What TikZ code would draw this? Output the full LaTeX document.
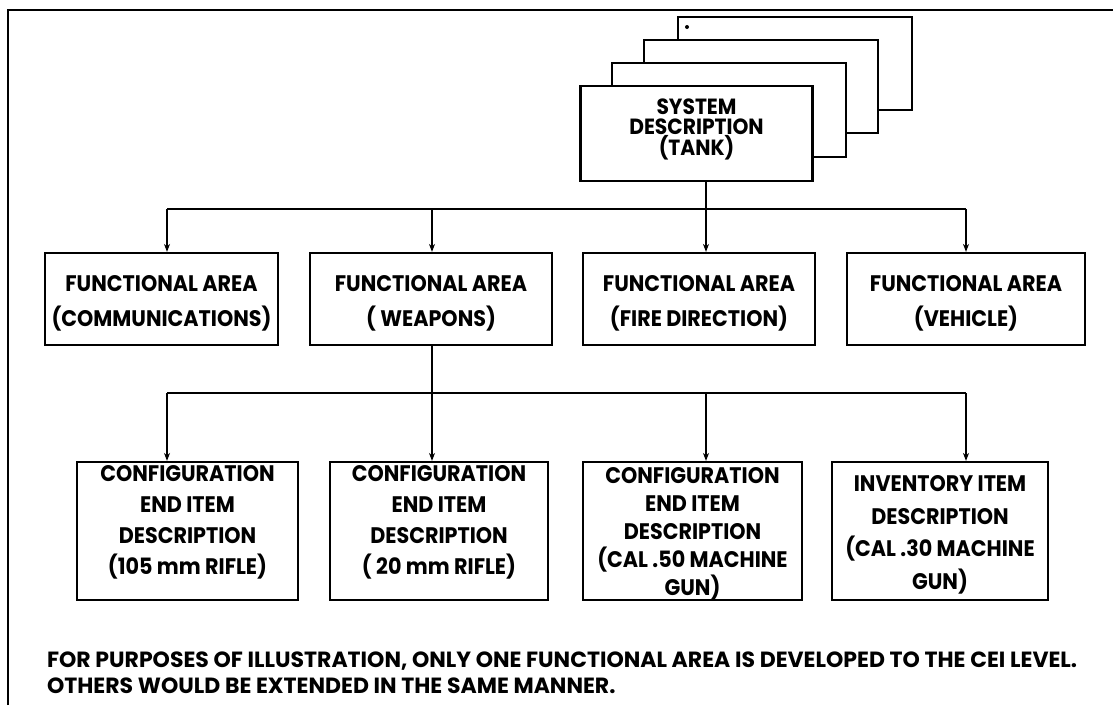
\documentclass[tikz,border=0pt]{standalone}
\usepackage{fontspec}
\setmainfont{Poppins}
% slightly narrowed face for the box labels
\newfontfamily\boxface{Poppins}[FakeStretch=0.92]
\usetikzlibrary{arrows.meta}
% invisible struts that push a box's text block down or up
\newcommand{\padtop}[1]{\rule{0pt}{#1}}
\newcommand{\padbot}[1]{\rule[-#1]{0pt}{1pt}}
% keep baselines evenly spaced even when lines are tall
\newcommand{\tightlines}{\lineskiplimit=-100pt\relax}
\begin{document}
\begin{tikzpicture}[x=1pt,y=-1pt,
  line width=2.2pt,
  box/.style={draw, fill=white, inner sep=0pt, align=center,
    font=\boxface\fontsize{22.5}{31}\selectfont\bfseries\tightlines},
  sheet/.style={draw, fill=white, line width=2.2pt},
  arr/.style={line width=1.6pt, -{Stealth[length=8pt,width=6pt]}},
  link/.style={line width=1.8pt}]
\useasboundingbox (0,0) rectangle (1113,705);

% open frame: top and left rules only
\draw[line width=2.6pt] (8,705) -- (8,10) -- (1113,10);

% stack of system sheets, back to front
\draw[sheet] (678,17) rectangle (912,110);
\fill (687,27) circle (2pt);
\draw[sheet] (644,40) rectangle (878,133);
\draw[sheet] (612,63) rectangle (846,157);
\node[box, minimum width=232pt, minimum height=95pt,
  font=\boxface\fontsize{22}{20.5}\selectfont\bfseries\tightlines] (sys) at (696.5,133.5)
  {SYSTEM\\DESCRIPTION\\(TANK)\padbot{13pt}};

% functional areas
\tikzset{fa/.style={box, minimum height=92pt,
  font=\boxface\fontsize{22.5}{35}\selectfont\bfseries\tightlines}}
\node[fa, minimum width=233pt] (fa1) at (161.5,299)
  {\padtop{24pt}FUNCTIONAL AREA\\(COMMUNICATIONS)};
\node[fa, minimum width=242pt] (fa2) at (431,299)
  {\padtop{24pt}FUNCTIONAL AREA\\( WEAPONS)};
\node[fa, minimum width=232pt] (fa3) at (699,299)
  {\padtop{24pt}FUNCTIONAL AREA\\(FIRE DIRECTION)};
\node[fa, minimum width=238pt] (fa4) at (966,299)
  {\padtop{24pt}FUNCTIONAL AREA\\(VEHICLE)};

% configuration end items
\node[box, minimum width=221pt, minimum height=138pt] (ce1) at (187.5,531)
  {CONFIGURATION\\END ITEM\\DESCRIPTION\\(105 mm RIFLE)\padbot{22pt}};
\node[box, minimum width=218pt, minimum height=138pt] (ce2) at (439,531)
  {CONFIGURATION\\END ITEM\\DESCRIPTION\\( 20 mm RIFLE)\padbot{22pt}};
\node[box, minimum width=219pt, minimum height=138pt,
  font=\boxface\fontsize{22.5}{28}\selectfont\bfseries\tightlines] (ce3) at (692.5,531)
  {\padtop{21pt}CONFIGURATION\\END ITEM\\DESCRIPTION\\(CAL .50 MACHINE\\GUN)};
\node[box, minimum width=216pt, minimum height=138pt,
  font=\boxface\fontsize{22.5}{32.5}\selectfont\bfseries\tightlines] (ce4) at (940,531)
  {\padtop{24pt}INVENTORY ITEM\\DESCRIPTION\\(CAL .30 MACHINE\\GUN)};

% upper bus
\coordinate (u1) at (167,209);
\coordinate (u2) at (432,209);
\coordinate (u3) at (706,209);
\coordinate (u4) at (966,209);
\draw[link] (sys.south -| u3) -- (u3);
\draw[link] (u1) -- (u4);
\draw[arr] (u1) -- (u1 |- fa1.north);
\draw[arr] (u2) -- (u2 |- fa2.north);
\draw[arr] (u3) -- (u3 |- fa3.north);
\draw[arr] (u4) -- (u4 |- fa4.north);

% lower bus
\coordinate (l1) at (167,393);
\coordinate (l2) at (432,393);
\coordinate (l3) at (706,393);
\coordinate (l4) at (966,393);
\draw[link] (fa2.south -| l2) -- (l2);
\draw[link] (l1) -- (l4);
\draw[arr] (l1) -- (l1 |- ce1.north);
\draw[arr] (l2) -- (l2 |- ce2.north);
\draw[arr] (l3) -- (l3 |- ce3.north);
\draw[arr] (l4) -- (l4 |- ce4.north);

% note
\node[anchor=base west, inner sep=0pt, align=left,
  font=\fontsize{22}{26}\selectfont\bfseries] (note) at (46,693)
  {FOR PURPOSES OF ILLUSTRATION, ONLY ONE FUNCTIONAL AREA IS DEVELOPED TO THE CEI LEVEL.\\
   OTHERS WOULD BE EXTENDED IN THE SAME MANNER.};
\end{tikzpicture}
\end{document}
